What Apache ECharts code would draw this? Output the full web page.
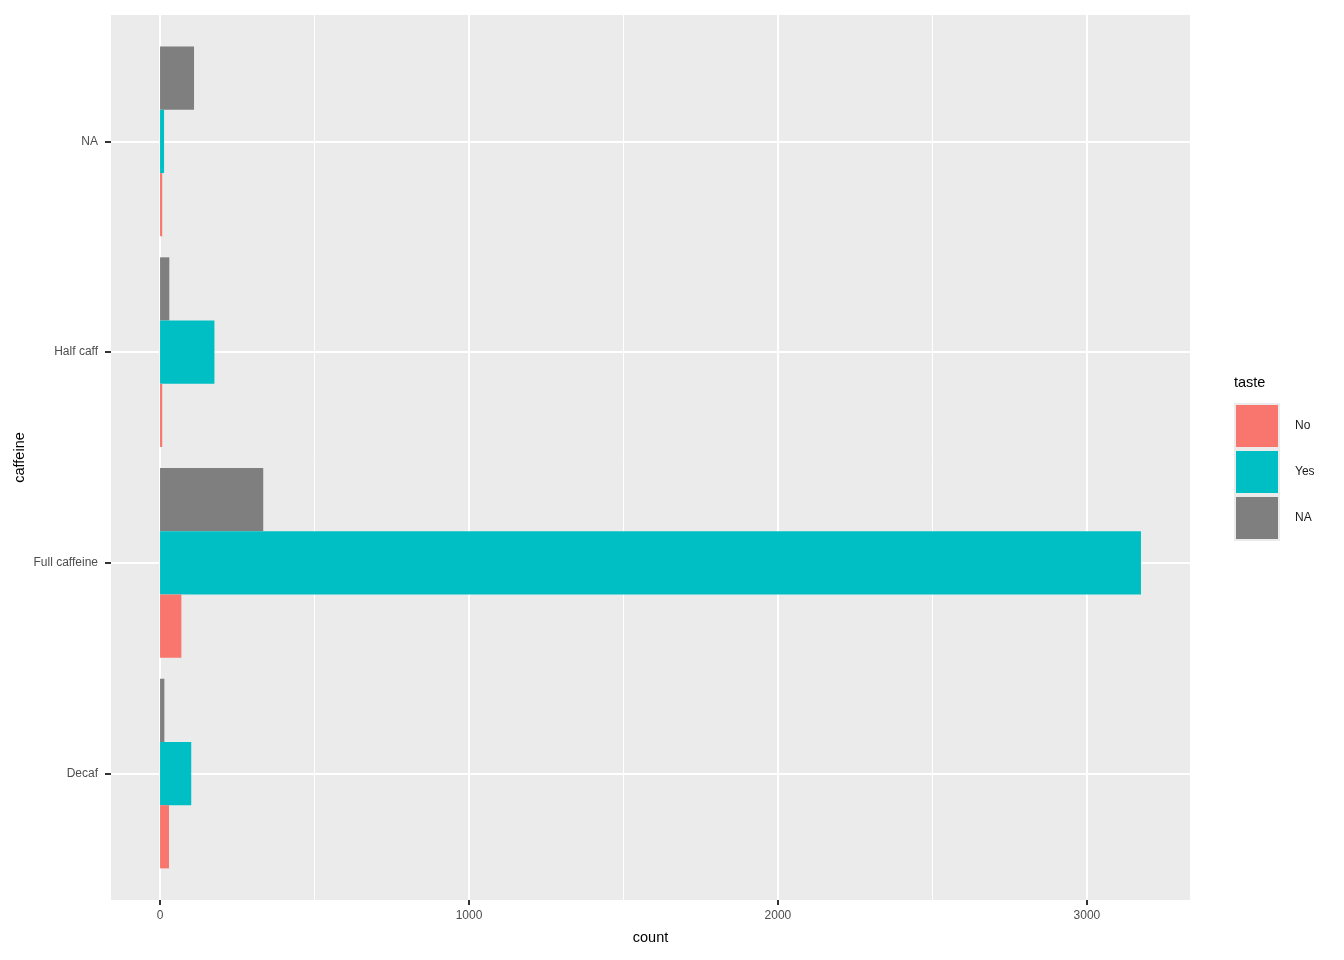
<!DOCTYPE html>
<html><head><meta charset="utf-8">
<script src="https://cdn.jsdelivr.net/npm/echarts@6/dist/echarts.min.js"></script>
<style>html,body{margin:0;padding:0;background:#fff}#c{width:1344px;height:960px}</style>
</head><body><div id="c"></div>
<script>
const categories = ['Decaf', 'Full caffeine', 'Half caff', 'NA'];
const tasteLevels = ['No', 'Yes', 'NA'];
const noValues = [29, 69, 7, 7];
const yesValues = [101, 3175, 176, 13];
const naValues = [14, 334, 30, 110];
const xTickValues = [0, 1000, 2000, 3000];
const xMinorValues = [500, 1500, 2500];
const yTickIndex = [0, 1, 2, 3];
const colors = ['#F8766D', '#00BFC4', '#7F7F7F'];

const dataMax = Math.max(...noValues, ...yesValues, ...naValues);
const xMin = -0.05 * dataMax, xMax = 1.05 * dataMax;

const panel = {left: 111, right: 1190, top: 15, bottom: 900};
const nCat = categories.length;
const unit = (panel.bottom - panel.top) / (nCat + 0.2);
const FONT = 'Liberation Sans, Arial, sans-serif';

const chart = echarts.init(document.getElementById('c'), null, {renderer: 'canvas'});
const seriesValues = [noValues, yesValues, naValues];

// ECharts places horizontal dodged bars top-down, ggplot bottom-up: add series in reverse
const seriesOrder = [2, 1, 0];

chart.setOption({
  animation: false,
  backgroundColor: '#ffffff',
  textStyle: {fontFamily: FONT},
  title: {
    text: 'taste', left: 1234, top: 375, padding: 0,
    textStyle: {fontSize: 14.5, fontWeight: 'normal', color: '#000', fontFamily: FONT}
  },
  graphic: [{
    type: 'rect', left: 1234, top: 403, z: -1,
    shape: {width: 46, height: 138},
    style: {fill: '#EBEBEB'}
  }],
  legend: {
    data: tasteLevels, orient: 'vertical', left: 1236, top: 405, padding: 0,
    itemWidth: 42, itemHeight: 42, itemGap: 4, icon: 'rect',
    textStyle: {fontSize: 12, color: '#1a1a1a', padding: [0, 0, 0, 12], fontFamily: FONT}
  },
  grid: [
    {left: panel.left, right: 1344 - panel.right, top: panel.top, bottom: 960 - panel.bottom,
     show: true, backgroundColor: '#EBEBEB', borderWidth: 0},
    {left: panel.left, right: 1344 - panel.right, top: panel.top + 0.1 * unit,
     bottom: 960 - panel.bottom + 0.1 * unit}
  ],
  xAxis: [
    {type: 'value', gridIndex: 0, min: xMin, max: xMax, position: 'bottom',
     name: 'count', nameLocation: 'middle', nameGap: 30,
     nameTextStyle: {fontSize: 14.5, color: '#000', fontFamily: FONT},
     axisLine: {show: false, onZero: false},
     axisTick: {show: true, length: 5, lineStyle: {color: '#333', width: 2}, customValues: xTickValues},
     axisLabel: {customValues: xTickValues, fontSize: 12, color: '#4D4D4D', margin: 10, fontFamily: FONT,
                 formatter: v => String(v)},
     splitLine: {show: true, lineStyle: {color: '#ffffff', width: 2}}
    },
    {type: 'value', gridIndex: 0, min: xMin, max: xMax, position: 'top',
     axisLine: {show: false, onZero: false}, axisLabel: {show: false},
     axisTick: {show: false, customValues: xMinorValues},
     splitLine: {show: true, lineStyle: {color: '#ffffff', width: 1}}
    },
    {type: 'value', gridIndex: 1, min: xMin, max: xMax, show: false, axisLine: {onZero: false}}
  ],
  yAxis: [
    {type: 'value', gridIndex: 0, min: -0.6, max: nCat - 1 + 0.6,
     name: 'caffeine', nameLocation: 'middle', nameGap: 84, nameRotate: 90,
     nameTextStyle: {fontSize: 14.5, color: '#000', fontFamily: FONT},
     axisLine: {show: false, onZero: false}, axisLabel: {show: false},
     axisTick: {show: false, customValues: yTickIndex},
     splitLine: {show: true, lineStyle: {color: '#ffffff', width: 2}}
    },
    {type: 'category', gridIndex: 1, data: categories, boundaryGap: true,
     axisLine: {show: false, onZero: false},
     axisTick: {show: true, alignWithLabel: true, length: 6, lineStyle: {color: '#333', width: 2}},
     axisLabel: {fontSize: 12, color: '#4D4D4D', margin: 13, fontFamily: FONT},
     splitLine: {show: false}
    }
  ],
  series: seriesOrder.map(i => ({
    name: tasteLevels[i], type: 'bar', xAxisIndex: 2, yAxisIndex: 1,
    data: seriesValues[i], barGap: '0%', barCategoryGap: '10%',
    itemStyle: {color: colors[i]}, clip: false
  }))
});
</script></body></html>
